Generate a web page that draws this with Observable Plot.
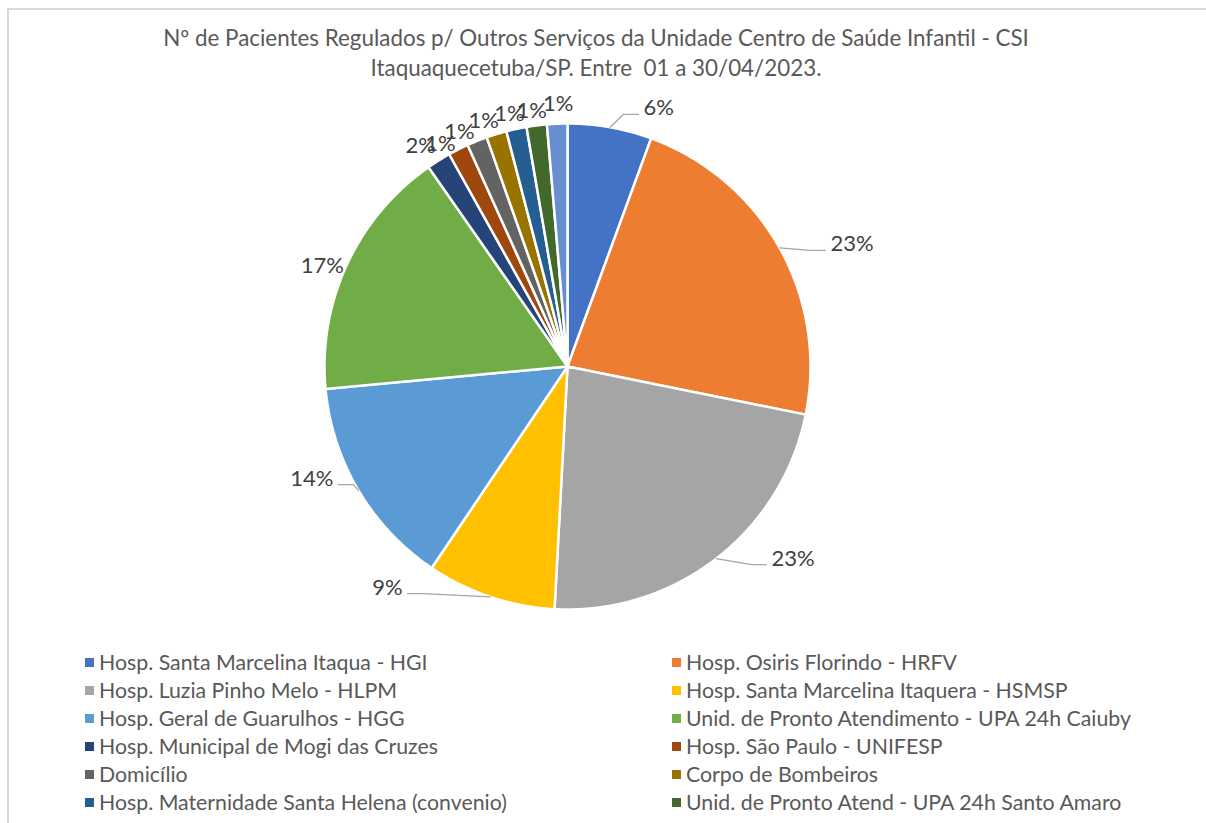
<!DOCTYPE html>
<html><head><meta charset="utf-8">
<script src="https://cdn.jsdelivr.net/npm/d3@7"></script>
<script src="https://cdn.jsdelivr.net/npm/@observablehq/plot@0.6"></script>
<style>
html,body{margin:0;padding:0;width:1206px;height:823px;overflow:hidden;background:#fff;font-family:Lato,"Open Sans",sans-serif;}
#frame{position:absolute;left:7px;top:8px;width:1400px;height:1000px;border-left:2px solid #d9d9d9;border-top:2px solid #d9d9d9;}
#title{position:absolute;left:0;top:23px;width:1192px;text-align:center;color:#595959;font-size:22.4px;line-height:30px;white-space:pre;}
#chart{position:absolute;left:0;top:90px;}
#legend{position:absolute;left:85px;top:648px;display:grid;grid-template-columns:587px 530px;grid-auto-rows:28px;color:#595959;font-size:21.3px;}
.item{display:flex;align-items:center;white-space:nowrap}
.sw{width:9px;height:9px;margin-right:5px;flex:none}
</style></head><body>
<div id="frame"></div>
<div id="title"></div>
<div id="chart"></div>
<div id="legend"></div>
<script>
// ---- data ----
const titleLines = [
  "Nº de Pacientes Regulados p/ Outros Serviços da Unidade Centro de Saúde Infantil - CSI",
  "Itaquaquecetuba/SP. Entre  01 a 30/04/2023."
];
const categories = [
  "Hosp. Santa Marcelina Itaqua - HGI",
  "Hosp. Osiris Florindo - HRFV",
  "Hosp. Luzia Pinho Melo - HLPM",
  "Hosp. Santa Marcelina Itaquera - HSMSP",
  "Hosp. Geral de Guarulhos - HGG",
  "Unid. de Pronto Atendimento - UPA 24h Caiuby",
  "Hosp. Municipal de Mogi das Cruzes",
  "Hosp. São Paulo - UNIFESP",
  "Domicílio",
  "Corpo de Bombeiros",
  "Hosp. Maternidade Santa Helena (convenio)",
  "Unid. de Pronto Atend - UPA 24h Santo Amaro",
  "(13)"
];
const values = [5.6, 22.6, 22.7, 8.6, 14.1, 16.8, 1.6, 1.35, 1.35, 1.35, 1.35, 1.35, 1.35];
const legendCount = 12; // legend is cut off after 12 entries

// ---- styles / label placement ----
const colors = ["#4472C4","#ED7D31","#A5A5A5","#FFC000","#5B9BD5","#70AD47",
                "#264478","#9E480E","#636363","#997300","#255E91","#43682B","#698ED0"];
const labelAngle  = [16.4, 65.1, 133.3, 216.7, 244.4, 292.4, 326.3, 330.3, 335.3, 341.1, 347.1, 352, 358];
const labelRadius = [1.107, 1.193, 1.153, 1.135, 1.068, 1.091, 1.089, 1.056, 1.064, 1.066, 1.068, 1.060, 1.083];
const labelAnchor = ["start","start","start","end","end","middle","middle","middle","middle","middle","middle","middle","middle"];
const hasLeader   = [true,true,true,true,true,false,false,false,false,false,false,false,false];

const W = 1206, H = 545, R = 243, CX = 567, CY = 276;
const u = 1 / R;
const FONT = "Lato, 'Open Sans', sans-serif";

document.getElementById("title").innerHTML = titleLines.map(t => `<div>${t}</div>`).join("");

const total = d3.sum(values);
const arcs = d3.pie().sort(null).value(d => d)(values);
const polar = (a, r) => ({x: r * Math.sin(a), y: r * Math.cos(a)});

const slicePts = [];
arcs.forEach((a, i) => {
  const n = Math.max(4, Math.ceil((a.endAngle - a.startAngle) / (Math.PI / 360)));
  slicePts.push({cat: categories[i], x: 0, y: 0});
  for (let k = 0; k <= n; k++) {
    const p = polar(a.startAngle + (a.endAngle - a.startAngle) * k / n, 1);
    slicePts.push({cat: categories[i], ...p});
  }
});

const labels = arcs.map((a, i) => {
  const p = polar(labelAngle[i] * Math.PI / 180, labelRadius[i]);
  return {i, x: p.x, y: p.y, anchor: labelAnchor[i], text: Math.round(values[i] / total * 100) + "%"};
});

const leaders = [];
labels.forEach((l, i) => {
  if (!hasLeader[i]) return;
  const mid = (arcs[i].startAngle + arcs[i].endAngle) / 2;
  const s = polar(mid, 1.0);
  const side = l.anchor === "start" ? -1 : 1;
  const end = {x: l.x + side * 5 * u, y: l.y - 6 * u};
  const elbow = {x: end.x + side * 15 * u, y: end.y};
  leaders.push({i, ...s}, {i, ...elbow}, {i, ...end});
});

const textOpts = {x: "x", y: "y", text: "text", fontSize: 22, fill: "#404040", fontFamily: FONT};

const chart = Plot.plot({
  width: W, height: H, margin: 0,
  style: {fontFamily: FONT, background: "transparent"},
  x: {domain: [-CX * u, (W - CX) * u], axis: null},
  y: {domain: [-(H - CY) * u, CY * u], axis: null},
  color: {domain: categories, range: colors},
  marks: [
    Plot.line(slicePts, {x: "x", y: "y", z: "cat", fill: "cat", stroke: "white", strokeWidth: 2.5, curve: "linear-closed", strokeLinejoin: "miter", strokeMiterlimit: 4}),
    Plot.line(leaders, {x: "x", y: "y", z: "i", stroke: "#a6a6a6", strokeWidth: 1.3}),
    Plot.text(labels.filter(d => d.anchor === "start"), {...textOpts, textAnchor: "start"}),
    Plot.text(labels.filter(d => d.anchor === "end"), {...textOpts, textAnchor: "end"}),
    Plot.text(labels.filter(d => d.anchor === "middle"), {...textOpts, textAnchor: "middle"})
  ]
});
document.getElementById("chart").appendChild(chart);

const lg = document.getElementById("legend");
categories.slice(0, legendCount).forEach((c, i) => {
  const it = document.createElement("div");
  it.className = "item";
  it.innerHTML = `<span class="sw" style="background:${colors[i]}"></span><span>${c}</span>`;
  lg.appendChild(it);
});
</script>
</body></html>
